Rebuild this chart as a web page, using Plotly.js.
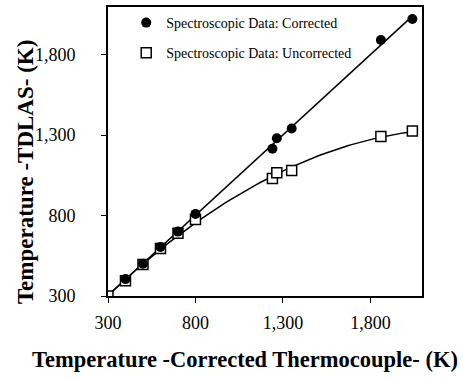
<!DOCTYPE html>
<html>
<head>
<meta charset="utf-8">
<script src="https://cdn.plot.ly/plotly-3.0.1.min.js"></script>
<style>
  html, body { margin: 0; padding: 0; background: #fff; }
  #chart { width: 463px; height: 378px; }
</style>
</head>
<body>
<div id="chart"></div>
<script>
// Thermocouple reference temperature (K) and TDLAS readings (K)
const correctedX   = [400, 500, 600, 700, 800, 1240, 1265, 1350, 1860, 2040];
const correctedY   = [405, 500, 605, 700, 810, 1215, 1280, 1340, 1890, 2020];
const uncorrectedX = [300, 400, 500, 600, 700, 800, 1240, 1265, 1350, 1860, 2040];
const uncorrectedY = [300, 395, 495, 595, 690, 775, 1030, 1065, 1080, 1290, 1325];

const seriesNames = ['Spectroscopic Data: Corrected', 'Spectroscopic Data: Uncorrected'];
const xTitle = 'Temperature -Corrected Thermocouple- (K)';
const yTitle = 'Temperature -TDLAS- (K)';

// Least-squares polynomial fit (order 1 or 2) used for the trend lines
function polyFit(xs, ys, order) {
  const n = order + 1;
  const A = [];
  for (let i = 0; i < n; i++) {
    A.push(new Array(n + 1).fill(0));
  }
  for (let k = 0; k < xs.length; k++) {
    for (let i = 0; i < n; i++) {
      for (let j = 0; j < n; j++) A[i][j] += Math.pow(xs[k], i + j);
      A[i][n] += ys[k] * Math.pow(xs[k], i);
    }
  }
  for (let i = 0; i < n; i++) {
    let p = i;
    for (let r = i + 1; r < n; r++) {
      if (Math.abs(A[r][i]) > Math.abs(A[p][i])) p = r;
    }
    const tmp = A[i]; A[i] = A[p]; A[p] = tmp;
    for (let r = 0; r < n; r++) {
      if (r === i) continue;
      const f = A[r][i] / A[i][i];
      for (let c = i; c <= n; c++) A[r][c] -= f * A[i][c];
    }
  }
  return A.map((row, i) => row[n] / row[i]);
}
function trend(coefs, x0, x1, steps) {
  const xs = [], ys = [];
  for (let s = 0; s <= steps; s++) {
    const x = x0 + (x1 - x0) * s / steps;
    xs.push(x);
    ys.push(coefs.reduce((acc, c, i) => acc + c * Math.pow(x, i), 0));
  }
  return { x: xs, y: ys };
}

const xMin = Math.min(...uncorrectedX);
const xMax = Math.max(...uncorrectedX);
const linTrend = trend(polyFit(correctedX, correctedY, 1), xMin, xMax, 2);
const quadTrend = trend(polyFit(uncorrectedX, uncorrectedY, 2), xMin, xMax, 80);

const traces = [
  { x: quadTrend.x, y: quadTrend.y, mode: 'lines', showlegend: false, hoverinfo: 'skip',
    line: { color: '#000', width: 1.5 } },
  { x: linTrend.x, y: linTrend.y, mode: 'lines', showlegend: false, hoverinfo: 'skip',
    line: { color: '#000', width: 1.5 } },
  { x: uncorrectedX, y: uncorrectedY, mode: 'markers', name: seriesNames[1],
    legendrank: 2, legendgroup: 'b',
    marker: { symbol: 'square', size: 10, color: '#fff', line: { color: '#000', width: 1.5 } } },
  { x: correctedX, y: correctedY, mode: 'markers', name: seriesNames[0],
    legendrank: 1, legendgroup: 'a',
    marker: { symbol: 'circle', size: 10, color: '#000', line: { color: '#000', width: 0 } } }
];

const serif = 'Liberation Serif';

const layout = {
  width: 463, height: 378,
  margin: { l: 108, r: 41, t: 7, b: 82 },
  paper_bgcolor: '#fff', plot_bgcolor: '#fff',
  font: { family: serif, color: '#000', size: 18 },
  showlegend: true,
  legend: {
    x: 0.058, y: 1.0, xanchor: 'left', yanchor: 'top',
    bgcolor: 'rgba(0,0,0,0)', font: { family: serif, size: 14, color: '#000' },
    traceorder: 'grouped', tracegroupgap: 9, itemwidth: 30
  },
  xaxis: {
    range: [300, 2095], tick0: 300, dtick: 500, tickformat: ',',
    showgrid: false, zeroline: false,
    showline: true, linecolor: '#000', linewidth: 2, mirror: true,
    ticks: 'outside', ticklen: 5, tickwidth: 1, tickcolor: '#000',
    ticklabelstandoff: 4,
    tickfont: { family: serif, size: 18, color: '#000' }
  },
  yaxis: {
    range: [300, 2095], tick0: 300, dtick: 500, tickformat: ',',
    showgrid: false, zeroline: false,
    showline: true, linecolor: '#000', linewidth: 2, mirror: true,
    ticks: 'outside', ticklen: 5, tickwidth: 1, tickcolor: '#000',
    ticklabelstandoff: 22,
    tickfont: { family: serif, size: 18, color: '#000' }
  },
  annotations: [
    { text: '<b>' + xTitle + '</b>', xref: 'paper', yref: 'paper',
      x: 0.435, y: -0.221, xanchor: 'center', yanchor: 'middle', showarrow: false,
      font: { family: serif, size: 22.5, color: '#000' } },
    { text: '<b>' + yTitle + '</b>', xref: 'paper', yref: 'paper',
      x: -0.264, y: 0.429, xanchor: 'center', yanchor: 'middle', showarrow: false,
      textangle: -90, font: { family: serif, size: 23, color: '#000' } }
  ]
};

Plotly.newPlot('chart', traces, layout, { displayModeBar: false, staticPlot: true });
</script>
</body>
</html>
